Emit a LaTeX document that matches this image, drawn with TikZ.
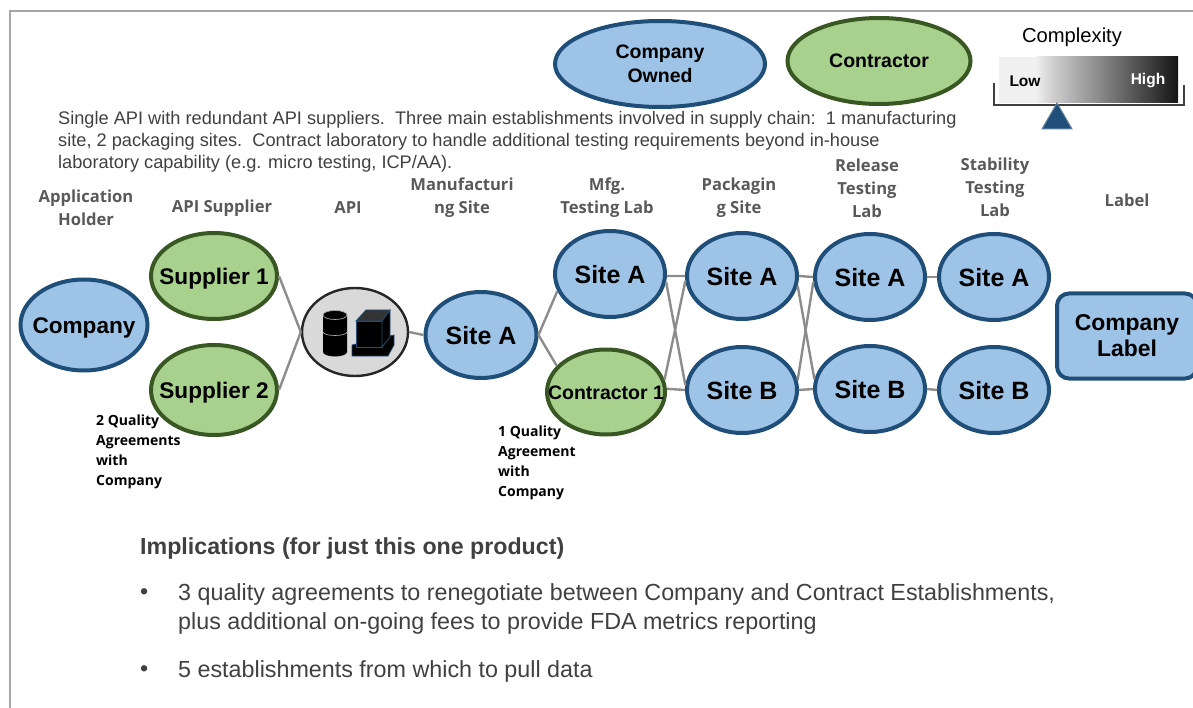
\documentclass[tikz,border=0pt]{standalone}
\usepackage{fontspec}
\setmainfont{Liberation Sans}
\newfontfamily\headfont{Open Sans}
\usepackage{xcolor}
\usetikzlibrary{shapes.geometric, positioning}

\definecolor{siteblue}{HTML}{9DC3E6}
\definecolor{siteedge}{HTML}{1F4E79}
\definecolor{contractgreen}{HTML}{A9D18E}
\definecolor{contractedge}{HTML}{385723}
\definecolor{bodygray}{HTML}{404040}
\definecolor{headgray}{HTML}{595959}
\definecolor{linkgray}{HTML}{8C8C8C}

\newcommand{\sitetext}[1]{\hbox to 0pt{\hss\raisebox{-.39em}[0pt][0pt]{#1}\hss}}

\tikzset{
	site/.style={ellipse, draw=siteedge, fill=siteblue, line width=4pt, inner sep=0pt, font=\fontsize{25}{25}\selectfont\bfseries},
	sitesup/.style={site, draw=contractedge, fill=contractgreen},
	sitesmall/.style={font=\fontsize{22.6}{25}\selectfont\bfseries},
	head/.style={align=center, text=headgray, inner sep=0pt, font=\headfont\fontsize{16.6}{23}\selectfont\bfseries},
	note/.style={align=left, anchor=north west, inner sep=0pt, font=\headfont\fontsize{14}{20}\selectfont\bfseries},
	body/.style={anchor=west, inner sep=0pt, text=bodygray, font=\fontsize{23.3}{24}\selectfont},
	link/.style={linkgray, line width=2.4pt},
}

\begin{document}
\begin{tikzpicture}[x=1pt, y=-1pt]
	\useasboundingbox (0,0) rectangle (1193,708);
	\draw[line width=1.5pt, gray!70] (10,708) -- (10,11) -- (1193,11); % frame

	% legend
	\node[site, minimum width=210pt, minimum height=86pt, font=\fontsize{19.5}{24}\selectfont\bfseries, align=center] (ownedkey) at (660,64) {Company\\Owned};
	\node[sitesup, minimum width=183pt, minimum height=86pt, font=\fontsize{19.5}{24}\selectfont\bfseries] (contractkey) at (879,61) {Contractor};

	% complexity scale
	\node[inner sep=0pt, font=\fontsize{20.2}{20}\selectfont] (complexity) at (1072,37) {Complexity};
	\fill[gray!12] (999,57) rectangle (1036,103);
	\shade[left color=gray!12, right color=gray!35] (1036,57) rectangle (1050,103);
	\shade[left color=gray!35, middle color=gray!50!black!75, right color=black!92] (1050,57) rectangle (1178,103);
	\draw[line width=2.6pt, black!75] (994,83) -- (994,105) -- (1184,105) -- (1184,85);
	\node[inner sep=0pt, font=\fontsize{15.5}{16}\selectfont\bfseries] (low) at (1025,81) {Low};
	\node[inner sep=0pt, text=white, font=\fontsize{15.5}{16}\selectfont\bfseries] (high) at (1148,81) {High};
	\fill[siteedge, draw=siteedge!70, line width=1pt] (1057,103) -- (1072,129) -- (1042,129) -- cycle;

	% summary
	\node[anchor=north west, inner sep=0pt, align=left, text=bodygray, font=\fontsize{18.2}{22}\selectfont] (summary) at (58,111) {Single API with redundant API suppliers.\ \ Three main establishments involved in supply chain:\ \ 1 manufacturing\\site, 2 packaging sites.\ \ Contract laboratory to handle additional testing requirements beyond in-house\\laboratory capability (e.g. micro testing, ICP/AA).};

	% column heads
	\node[head] (headholder) at (86,208) {Application\\Holder};
	\node[head] (headsupplier) at (222,208) {API Supplier};
	\node[head] (headapi) at (348,208) {API};
	\node[head] (headmfg) at (462,198) {Manufacturi\\ng Site};
	\node[head] (headlab) at (607,198) {Mfg.\\Testing Lab};
	\node[head] (headpack) at (739,198) {Packagin\\g Site};
	\node[head] (headrel) at (867,188) {Release\\Testing\\Lab};
	\node[head] (headstab) at (995,187) {Stability\\Testing\\Lab};
	\node[head] (headlabel) at (1127,200) {Label};

	% sites
	\node[site, sitesmall, minimum width=127pt, minimum height=91pt] (company) at (84,325) {\sitetext{Company}};
	\node[sitesup, sitesmall, minimum width=126pt, minimum height=86pt] (supone) at (214,276) {\sitetext{Supplier 1}};
	\node[sitesup, sitesmall, minimum width=126pt, minimum height=90pt] (suptwo) at (214,390) {\sitetext{Supplier 2}};
	\node[ellipse, draw=black!85, fill=gray!30, line width=2.4pt, minimum width=106pt, minimum height=88pt] (api) at (355,332) {};
	\node[site, minimum width=111pt, minimum height=86pt] (mfg) at (481,335) {\sitetext{Site A}};
	\node[site, minimum width=110pt, minimum height=86pt] (laba) at (610,274) {\sitetext{Site A}};
	\node[sitesup, minimum width=118pt, minimum height=85pt, font=\fontsize{19.5}{20}\selectfont\bfseries] (labb) at (606,392) {\sitetext{Contractor 1}};
	\node[site, minimum width=110pt, minimum height=86pt] (packa) at (742,276) {\sitetext{Site A}};
	\node[site, minimum width=110pt, minimum height=86pt] (packb) at (742,390) {\sitetext{Site B}};
	\node[site, minimum width=110pt, minimum height=86pt] (rela) at (870,277) {\sitetext{Site A}};
	\node[site, minimum width=110pt, minimum height=86pt] (relb) at (870,389) {\sitetext{Site B}};
	\node[site, minimum width=110pt, minimum height=86pt] (staba) at (994,277) {\sitetext{Site A}};
	\node[site, minimum width=110pt, minimum height=86pt] (stabb) at (994,390) {\sitetext{Site B}};
	\node[draw=siteedge, fill=siteblue, line width=4pt, rounded corners=12pt, minimum width=140pt, minimum height=85pt, align=center, font=\fontsize{22.9}{26}\selectfont\bfseries] (brand) at (1127,336) {Company\\Label};

	% drum and box in the API node
	\fill[black] (323,315) -- (323,352) arc (180:0:12 and 4.5) -- (347,315) arc (0:-180:12 and 4.5);
	\draw[gray!70, line width=.7pt] (335,315) ellipse (12 and 4.5);
	\draw[gray!70, line width=.7pt] (323,332) arc (180:0:12 and 3.5);
	\fill[black, draw=siteedge, line width=.8pt] (352,345) -- (394,335) -- (394,345) -- (388,356) -- (352,356) -- cycle;
	\fill[black, draw=siteedge, line width=.8pt] (356,321) -- (382,321) -- (382,347) -- (356,347) -- cycle;
	\fill[black!80, draw=siteedge, line width=.8pt] (356,321) -- (366,310) -- (390,310) -- (382,321) -- cycle;
	\fill[black, draw=siteedge, line width=.8pt] (382,321) -- (390,310) -- (390,337) -- (382,347) -- cycle;

	% links
	\draw[link] (supone.east) -- (api.west);
	\draw[link] (suptwo.east) -- (api.west);
	\draw[link] (api.east) -- (mfg.west);
	\draw[link] (mfg.east) -- (laba.198);
	\draw[link] (mfg.east) -- (labb.152);
	\foreach \s/\t in {laba.-2/packa.180, labb.3/packb.180, laba.-8/packb.175, labb.12/packa.185, packa.0/rela.180, packb.0/relb.180, packa.-10/relb.170, packb.10/rela.185, rela.0/staba.180, relb.0/stabb.180} {
		\draw[link] (\s) -- (\t);
	}

	% notes
	\node[note] (notesupplier) at (96,415) {2 Quality\\Agreements\\with\\Company};
	\node[note] (notelab) at (498,426) {1 Quality\\Agreement\\with\\Company};

	% implications
	\node[body, font=\fontsize{23.2}{24}\selectfont\bfseries] (implications) at (140,548) {Implications (for just this one product)};
	\node[body] (bulletone) at (140,594) {•};
	\node[body] (lineone) at (178,594) {3 quality agreements to renegotiate between Company and Contract Establishments,};
	\node[body] (linetwo) at (178,623) {plus additional on-going fees to provide FDA metrics reporting};
	\node[body] (bullettwo) at (140,671) {•};
	\node[body] (linethree) at (178,671) {5 establishments from which to pull data};
\end{tikzpicture}
\end{document}
